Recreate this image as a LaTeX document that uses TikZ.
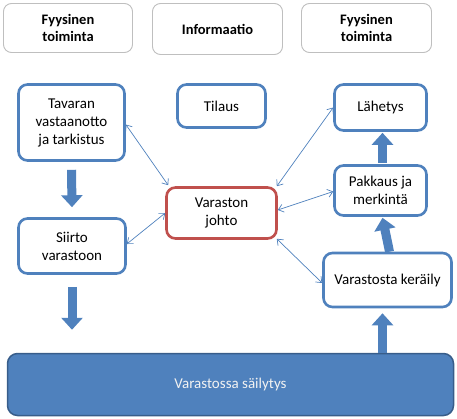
\documentclass[tikz,border=0pt]{standalone}
\usepackage{fontspec}
\setmainfont{Carlito}
\usetikzlibrary{arrows.meta,calc}
\definecolor{accblue}{HTML}{4F81BD}
\definecolor{darkblue}{HTML}{385D8A}
\definecolor{accred}{HTML}{C0504D}
\definecolor{hdrgray}{HTML}{BFBFBF}
\tikzset{
  hdr/.style={draw=hdrgray, line width=0.9pt, rounded corners=8pt, fill=white,
    align=center, font=\fontsize{14.5}{17}\selectfont\bfseries, inner sep=0pt},
  bbox/.style={draw=accblue, line width=2.6pt, rounded corners=9pt, fill=white,
    align=center, font=\fontsize{15}{18}\selectfont, inner sep=0pt},
  rbox/.style={bbox, draw=accred},
  conn/.style={draw=accblue, line width=0.7pt,
    {Straight Barb[length=5pt,width=8pt]}-{Straight Barb[length=5pt,width=8pt]}},
  barrow/.style={draw=accblue, line width=9pt,
    -{Triangle[length=12pt,width=21pt]}}
}
\begin{document}
\begin{tikzpicture}[x=1pt,y=-1pt]
\useasboundingbox (0,0) rectangle (457,418);
% headers
\node[hdr, minimum width=129pt, minimum height=49pt] (h1) at (68,28) {Fyysinen\\toiminta};
\node[hdr, minimum width=130pt, minimum height=51pt] (h2) at (217.5,29) {Informaatio};
\node[hdr, minimum width=130pt, minimum height=49pt] (h3) at (366.5,28) {Fyysinen\\toiminta};
% boxes
\node[bbox, minimum width=106pt, minimum height=76pt] (tav) at (71.5,122.5) {Tavaran\\vastaanotto\\ja tarkistus};
\node[bbox, minimum width=107pt, minimum height=55pt] (sii) at (72,246) {Siirto\\varastoon};
\node[bbox, minimum width=88pt, minimum height=43pt] (til) at (221.5,106) {Tilaus};
\node[rbox, minimum width=110pt, minimum height=51pt] (joh) at (221.5,213) {Varaston\\johto};
\node[bbox, minimum width=92pt, minimum height=46pt] (lah) at (380.5,107.5) {Lähetys};
\node[bbox, minimum width=92pt, minimum height=50pt] (pak) at (380.5,190.5) {Pakkaus ja\\merkintä};
\node[bbox, minimum width=128pt, minimum height=54pt] (ker) at (387.5,280) {Varastosta keräily};
\node[draw=darkblue, fill=accblue, line width=1.5pt, rounded corners=10pt,
  minimum width=446pt, minimum height=62pt, inner sep=0pt,
  text=white!95!black, font=\fontsize{15}{18}\selectfont] (bot) at (230.5,384.5) {Varastossa säilytys};
% thin connectors
\draw[conn] ([yshift=-2pt]tav.east) -- ([xshift=3pt,yshift=1pt]joh.north west);
\draw[conn] ([yshift=2pt]sii.east) -- (joh.west);
\draw[conn] ([xshift=-1pt]joh.north east) -- (lah.west);
\draw[conn] ([yshift=3pt]joh.east) -- ([yshift=-1pt]pak.west);
\draw[conn] ([xshift=-1pt,yshift=1pt]joh.south east) -- ([yshift=-3pt]ker.west);
% block arrows
\draw[barrow] ([yshift=-8pt]tav.south) -- ([yshift=10pt]sii.north);
\draw[barrow] ([yshift=-12pt]sii.south) -- ([yshift=23pt]sii.south |- bot.north);
\draw[barrow] ([xshift=2pt,yshift=1pt]pak.north) -- ([xshift=2pt,yshift=-1pt]lah.south);
\draw[barrow] ([xshift=2pt]ker.north) -- ([xshift=2pt,yshift=-1pt]pak.south);
\draw[barrow] ([xshift=2pt]pak.south |- bot.north) -- ([xshift=2pt,yshift=-5pt]pak.south |- ker.south);
\end{tikzpicture}
\end{document}
